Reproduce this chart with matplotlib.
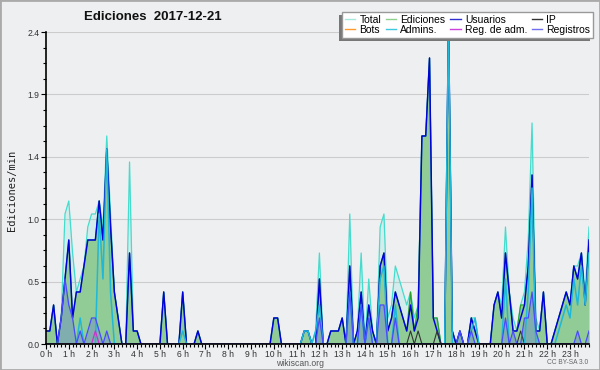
import matplotlib
matplotlib.use("Agg")
import matplotlib.pyplot as plt
from matplotlib.lines import Line2D
from matplotlib.patches import Rectangle

plt.rcParams['font.family'] = ['Liberation Sans', 'DejaVu Sans']

# edits per minute, one value every 10 minutes (12 values per row = 2 hours)
total = [
    0.1, 0.1, 0.3, 0, 0.2, 1.0, 1.1, 0.7, 0.4, 0.5, 0.6, 0.9,
    1.0, 1.0, 1.1, 0.9, 1.6, 1.0, 0.4, 0.2, 0, 0, 1.4, 0.1,
    0.1, 0, 0, 0, 0, 0, 0, 0.4, 0, 0, 0, 0,
    0.4, 0, 0, 0, 0.1, 0, 0, 0, 0, 0, 0, 0,
    0, 0, 0, 0, 0, 0, 0, 0, 0, 0, 0, 0,
    0.2, 0.2, 0, 0, 0, 0, 0, 0, 0.1, 0.1, 0, 0.1,
    0.7, 0, 0, 0.1, 0.1, 0.1, 0.2, 0, 1.0, 0, 0.1, 0.7,
    0, 0.5, 0.1, 0, 0.9, 1.0, 0.2, 0.3, 0.6, 0.5, 0.4, 0.3,
    0.4, 0.2, 0.3, 1.6, 1.6, 2.2, 0.2, 0.2, 0, 0, 2.5, 0.1,
    0, 0.1, 0, 0, 0.2, 0.2, 0, 0, 0, 0, 0.3, 0.4,
    0.3, 0.9, 0.4, 0.2, 0.1, 0.3, 0.4, 0.8, 1.7, 0.2, 0.1, 0.4,
    0, 0, 0.1, 0.2, 0.3, 0.4, 0.3, 0.6, 0.6, 0.7, 0.4, 0.9,
]
ediciones = [
    0.1, 0.1, 0.3, 0, 0.2, 0.5, 0.8, 0.2, 0.4, 0.4, 0.6, 0.8,
    0.8, 0.8, 1.1, 0.8, 1.5, 0.9, 0.4, 0.2, 0, 0, 0.7, 0.1,
    0.1, 0, 0, 0, 0, 0, 0, 0.4, 0, 0, 0, 0,
    0.4, 0, 0, 0, 0.1, 0, 0, 0, 0, 0, 0, 0,
    0, 0, 0, 0, 0, 0, 0, 0, 0, 0, 0, 0,
    0.2, 0.2, 0, 0, 0, 0, 0, 0, 0.1, 0.1, 0, 0,
    0.5, 0, 0, 0.1, 0.1, 0.1, 0.2, 0, 0.6, 0, 0.1, 0.4,
    0, 0.3, 0.1, 0, 0.6, 0.7, 0.1, 0.2, 0.4, 0.3, 0.2, 0.1,
    0.4, 0.1, 0.3, 1.6, 1.6, 2.2, 0.2, 0.2, 0, 0, 2.5, 0.1,
    0, 0.1, 0, 0, 0.2, 0.1, 0, 0, 0, 0, 0.3, 0.4,
    0.2, 0.7, 0.4, 0.1, 0.1, 0.3, 0.3, 0.6, 1.3, 0.1, 0.1, 0.4,
    0, 0, 0.1, 0.2, 0.3, 0.4, 0.3, 0.6, 0.5, 0.7, 0.3, 0.8,
]
usuarios = [
    0.1, 0.1, 0.3, 0, 0.2, 0.5, 0.8, 0.2, 0.4, 0.4, 0.6, 0.8,
    0.8, 0.8, 1.1, 0.8, 1.5, 0.9, 0.4, 0.2, 0, 0, 0.7, 0.1,
    0.1, 0, 0, 0, 0, 0, 0, 0.4, 0, 0, 0, 0,
    0.4, 0, 0, 0, 0.1, 0, 0, 0, 0, 0, 0, 0,
    0, 0, 0, 0, 0, 0, 0, 0, 0, 0, 0, 0,
    0.2, 0.2, 0, 0, 0, 0, 0, 0, 0.1, 0.1, 0, 0,
    0.5, 0, 0, 0.1, 0.1, 0.1, 0.2, 0, 0.6, 0, 0.1, 0.4,
    0, 0.3, 0.1, 0, 0.6, 0.7, 0.1, 0.2, 0.4, 0.3, 0.2, 0.1,
    0.3, 0.1, 0.2, 1.6, 1.6, 2.2, 0.2, 0.1, 0, 0, 2.5, 0.1,
    0, 0.1, 0, 0, 0.2, 0.1, 0, 0, 0, 0, 0.3, 0.4,
    0.2, 0.7, 0.4, 0.1, 0.1, 0.2, 0.3, 0.6, 1.3, 0.1, 0.1, 0.4,
    0, 0, 0.1, 0.2, 0.3, 0.4, 0.3, 0.6, 0.5, 0.7, 0.3, 0.8,
]
ip = [
    0, 0, 0, 0, 0, 0, 0, 0, 0, 0, 0, 0,
    0, 0, 0, 0, 0, 0, 0, 0, 0, 0, 0, 0,
    0, 0, 0, 0, 0, 0, 0, 0, 0, 0, 0, 0,
    0, 0, 0, 0, 0, 0, 0, 0, 0, 0, 0, 0,
    0, 0, 0, 0, 0, 0, 0, 0, 0, 0, 0, 0,
    0, 0, 0, 0, 0, 0, 0, 0, 0, 0, 0, 0,
    0, 0, 0, 0, 0, 0, 0, 0, 0, 0, 0, 0,
    0, 0, 0, 0, 0, 0, 0, 0, 0, 0, 0, 0,
    0.1, 0, 0.1, 0, 0, 0, 0, 0.1, 0, 0, 0, 0,
    0, 0, 0, 0, 0, 0, 0, 0, 0, 0, 0, 0,
    0, 0, 0, 0, 0, 0.1, 0, 0, 0, 0, 0, 0,
    0, 0, 0, 0, 0, 0, 0, 0, 0, 0, 0, 0,
]
bots = [0] * 144
admins = [
    0, 0, 0, 0, 0, 0, 0, 0, 0, 0.2, 0, 0,
    0, 0, 1.0, 0.5, 1.5, 0.4, 0, 0, 0, 0, 0, 0,
    0, 0, 0, 0, 0, 0, 0, 0, 0, 0, 0, 0,
    0.1, 0, 0, 0, 0, 0, 0, 0, 0, 0, 0, 0,
    0, 0, 0, 0, 0, 0, 0, 0, 0, 0, 0, 0,
    0, 0, 0, 0, 0, 0, 0, 0, 0.1, 0.1, 0, 0.1,
    0.3, 0, 0, 0, 0, 0, 0, 0, 0.4, 0, 0, 0.3,
    0, 0.2, 0, 0, 0.5, 0.6, 0, 0, 0.3, 0, 0, 0,
    0, 0, 0, 0, 0, 0, 0, 0, 0, 0, 2.5, 0,
    0, 0, 0, 0, 0.1, 0.2, 0, 0, 0, 0, 0, 0,
    0, 0.5, 0, 0, 0, 0, 0, 0.4, 1.2, 0, 0, 0,
    0, 0, 0, 0.1, 0.2, 0.3, 0.2, 0.5, 0.3, 0.6, 0.3, 0.7,
]
reg_adm = [0] * 13 + [0.1] + [0] * 130
registros = [
    0, 0, 0, 0, 0.2, 0.5, 0.3, 0.2, 0, 0.1, 0, 0.1,
    0.2, 0.2, 0.1, 0, 0.1, 0, 0, 0, 0, 0, 0, 0,
    0, 0, 0, 0, 0, 0, 0, 0, 0, 0, 0, 0,
    0, 0, 0, 0, 0, 0, 0, 0, 0, 0, 0, 0,
    0, 0, 0, 0, 0, 0, 0, 0, 0, 0, 0, 0,
    0, 0, 0, 0, 0, 0, 0, 0, 0, 0, 0, 0,
    0.2, 0, 0, 0, 0, 0, 0, 0, 0.4, 0, 0, 0.3,
    0, 0.2, 0, 0, 0.3, 0.3, 0, 0, 0.2, 0, 0, 0,
    0, 0, 0, 0, 0, 0, 0, 0, 0, 0, 0, 0,
    0, 0.1, 0, 0, 0.1, 0, 0, 0, 0, 0, 0, 0,
    0, 0.2, 0, 0.1, 0, 0, 0.2, 0.2, 0.4, 0.1, 0, 0,
    0, 0, 0, 0, 0, 0, 0, 0, 0.1, 0, 0, 0.1,
]

hour_labels = [f"{h} h" for h in range(24)]
y_ticks = [0, 0.48, 0.96, 1.44, 1.92, 2.4]
x = list(range(len(total)))

bg = '#eeeff1'
fig = plt.figure(figsize=(6, 3.7), dpi=100, facecolor=bg)
ax = fig.add_axes([46 / 600, 26 / 370, 543 / 600, 312 / 370])
ax.set_facecolor(bg)

# areas and lines
ax.fill_between(x, total, color='#40e0d0', alpha=0.15, lw=0)
ax.plot(x, total, color='#44dccc', lw=0.9)
ax.fill_between(x, ediciones, color='#91cb96', lw=0)
ax.plot(x, ediciones, color='#2ca02c', lw=0.9)
ax.plot(x, usuarios, color='#0000dd', lw=1.05)
ax.plot(x, ip, color='#333333', lw=0.8)
ax.plot(x, bots, color='#ff9933', lw=0.9)
ax.plot(x, admins, color='#1fb8d8', lw=1.1)
ax.plot(x, reg_adm, color='#cc33cc', lw=0.9)
ax.fill_between(x, registros, color='#4444ff', alpha=0.22, lw=0)
ax.plot(x, registros, color='#4a4aff', lw=0.9)

ax.set_xlim(0, 143)
ax.set_ylim(0, 2.4)
ax.set_xticks(range(0, 144, 6))
ax.set_xticklabels(hour_labels)
ax.set_xticks(range(0, 144), minor=True)
ax.set_yticks(y_ticks)
ax.set_yticklabels([f"{v:.1f}" for v in y_ticks])
ax.set_yticks([i * 0.12 for i in range(21)], minor=True)
ax.tick_params(axis='both', which='both', direction='out', width=0.8,
               labelsize=6.2, labelcolor='#333333')
ax.tick_params(axis='both', which='major', length=3.5)
ax.tick_params(axis='both', which='minor', length=2.5)
ax.tick_params(axis='x', pad=0.5)
ax.tick_params(axis='y', pad=1)
ax.yaxis.grid(True, color='#cccccc', lw=0.8)
ax.set_axisbelow(True)
for s in ['top', 'right']:
    ax.spines[s].set_visible(False)
for s in ['left', 'bottom']:
    ax.spines[s].set_linewidth(1.2)
    ax.spines[s].set_zorder(3)

fig.text(153 / 600, 1 - 17 / 370, 'Ediciones  2017-12-21', ha='center',
         va='center', fontsize=9.5, fontweight='bold', color='#111111')
fig.text(12 / 600, 1 - 190 / 370, 'Ediciones/min', rotation=90, ha='center',
         va='center', fontsize=7.5, color='#222222', family='DejaVu Sans Mono')
fig.text(0.5, 1 - 363 / 370, 'wikiscan.org', ha='center', va='center',
         fontsize=6.2, color='#555555')
fig.text(568 / 600, 1 - 363 / 370, 'CC BY-SA 3.0', ha='center', va='center',
         fontsize=4.8, color='#666666')

# legend (column-major order so rows read Total.. / Bots..)
entries = [
    ('Total', '#a6e8e0'), ('Bots', '#ff9a30'),
    ('Ediciones', '#8fd08f'), ('Admins.', '#40c8e0'),
    ('Usuarios', '#3030d0'), ('Reg. de adm.', '#d040e0'),
    ('IP', '#333333'), ('Registros', '#7070ee'),
]
handles = [Line2D([], [], color=c, lw=1) for _, c in entries]
leg = fig.legend(handles, [n for n, _ in entries], ncol=4, loc='upper right',
                 bbox_to_anchor=(593 / 600, 1 - 12 / 370), fontsize=7.5,
                 fancybox=False, edgecolor='#999999', framealpha=1,
                 handlelength=1.0, handletextpad=0.4, columnspacing=0.45,
                 labelspacing=0.05, borderpad=0.25, borderaxespad=0)
leg.get_frame().set_linewidth(1)
fig.canvas.draw()
bb = leg.get_window_extent()
fig.add_artist(Rectangle((bb.x0 - 3, bb.y0 - 3), bb.width, bb.height,
                         transform=None, fc='#777777', ec='none',
                         zorder=leg.get_zorder() - 0.5))
fig.add_artist(Rectangle((0, 0), 1, 1, transform=fig.transFigure, fill=False,
                         ec='#aaaaaa', lw=2))

fig.savefig('out.png', dpi=100, facecolor=bg)
